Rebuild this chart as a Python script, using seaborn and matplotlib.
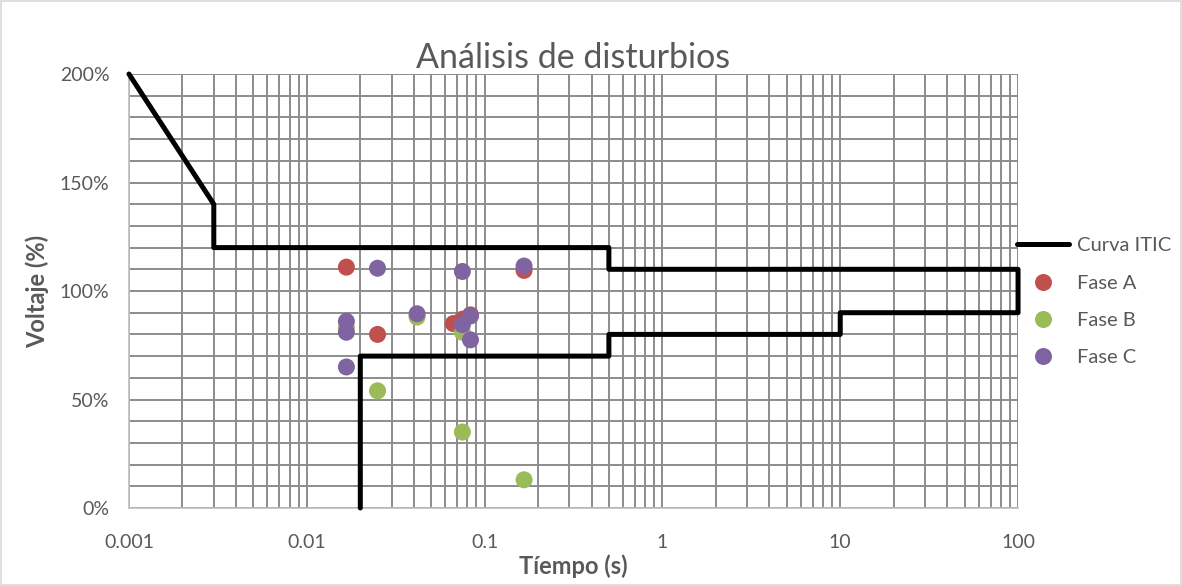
import matplotlib
matplotlib.use("Agg")
import matplotlib.pyplot as plt
import matplotlib.ticker as mticker
from matplotlib.patches import Rectangle
import seaborn as sns
import pandas as pd
import numpy as np

# ITIC tolerance curve (time in s, voltage in %)
itic_t = [0.001, 0.003, 0.003, 0.5, 0.5, 100, 100, 10, 10, 0.5, 0.5, 0.02, 0.02]
itic_v = [200, 140, 120, 120, 110, 110, 90, 90, 80, 80, 70, 70, 0]

# Measured disturbances per phase
fase_a_t = [0.0167, 0.025, 0.0667, 0.075, 0.0833, 0.1667]
fase_a_v = [111, 80, 85, 87, 89, 109.5]
fase_b_t = [0.0167, 0.0417, 0.025, 0.075, 0.075, 0.1667]
fase_b_v = [83, 88, 54, 81, 35, 13]
fase_c_t = [0.025, 0.075, 0.1667, 0.0417, 0.0167, 0.0167, 0.0167, 0.075, 0.0833, 0.0833]
fase_c_v = [110.5, 109, 111.5, 89.5, 86, 81, 65, 84.5, 88.5, 77.5]

phase_names = ["Fase A", "Fase B", "Fase C"]
phase_colors = ["#C0504D", "#9BBB59", "#8064A2"]

x_ticks = [0.001, 0.01, 0.1, 1, 10, 100]
x_tick_labels = ["0.001", "0.01", "0.1", "1", "10", "100"]
y_ticks = [0, 50, 100, 150, 200]

points = pd.DataFrame({
    "t": fase_a_t + fase_b_t + fase_c_t,
    "v": fase_a_v + fase_b_v + fase_c_v,
    "fase": ["Fase A"] * len(fase_a_t) + ["Fase B"] * len(fase_b_t) + ["Fase C"] * len(fase_c_t),
})
curve = pd.DataFrame({"t": itic_t, "v": itic_v})

sns.set_style("white")
plt.rcParams["font.family"] = ["Lato", "DejaVu Sans"]

fig = plt.figure(figsize=(11.82, 5.86), dpi=100)
ax = fig.add_axes([0.1091, 0.1331, 0.7522, 0.7406])

grid_c = "#8C8C8C"
ax.set_xscale("log")
ax.set_xlim(0.001, 100)
ax.set_ylim(0, 200)

# grid: all decades plus 2..9 subdivisions, and every 10 %
ax.xaxis.set_major_locator(mticker.FixedLocator(x_ticks))
ax.xaxis.set_major_formatter(mticker.FixedFormatter(x_tick_labels))
ax.xaxis.set_minor_locator(mticker.LogLocator(base=10, subs=np.arange(2, 10)))
ax.xaxis.set_minor_formatter(mticker.NullFormatter())
ax.yaxis.set_major_locator(mticker.FixedLocator(y_ticks))
ax.yaxis.set_major_formatter(mticker.FuncFormatter(lambda v, p: f"{v:.0f}%"))
ax.yaxis.set_minor_locator(mticker.MultipleLocator(10))
ax.grid(True, which="both", axis="both", color=grid_c, lw=1.4)
ax.set_axisbelow(True)

sns.lineplot(data=curve, x="t", y="v", sort=False, estimator=None, color="black",
             lw=3.6, ax=ax, label="Curva ITIC", zorder=3)
sns.scatterplot(data=points, x="t", y="v", hue="fase", hue_order=phase_names,
                palette=phase_colors, s=150, edgecolor="none", ax=ax, zorder=4)
for ln in ax.lines:
    ln.set_clip_on(False)

for s in ["top", "right"]:
    ax.spines[s].set_visible(False)
ax.spines["left"].set_color("#BFBFBF")
ax.spines["bottom"].set_color("#BFBFBF")
ax.spines["left"].set_linewidth(1.2)
ax.spines["bottom"].set_linewidth(1.2)
ax.tick_params(axis="both", which="major", length=6, width=1.2, color="#BFBFBF",
               labelsize=14, labelcolor="#595959", pad=8)
ax.tick_params(axis="x", which="major", direction="out", pad=13)
ax.tick_params(axis="both", which="minor", length=0)

ax.set_title("Análisis de disturbios", fontsize=24.5, color="#595959", pad=4)
ax.set_xlabel("Tíempo (s)", fontsize=17, fontweight="bold", color="#595959", labelpad=2)
ax.set_ylabel("Voltaje (%)", fontsize=17, fontweight="bold", color="#595959", labelpad=8)

handles, labels = ax.get_legend_handles_labels()
leg = fig.legend(handles, labels, loc="upper left", bbox_to_anchor=(0.860, 0.595),
                 frameon=False, fontsize=14.5, labelcolor="#595959",
                 handlelength=2.6, handletextpad=0.4, labelspacing=1.0,
                 markerscale=1.0, borderaxespad=0, borderpad=0)
ax.get_legend().remove()

fig.patches.append(Rectangle((0.001, 0.001), 0.998, 0.998, transform=fig.transFigure,
                             fill=False, edgecolor="#D9D9D9", lw=1.2))

fig.savefig("out.png", dpi=100)
